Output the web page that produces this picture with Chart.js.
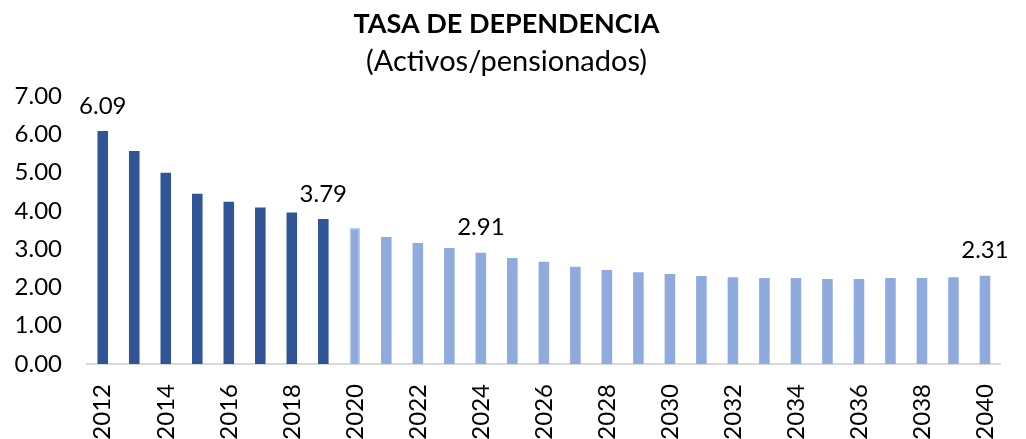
<!DOCTYPE html>
<html>
<head>
<meta charset="utf-8">
<script src="https://cdn.jsdelivr.net/npm/chart.js@4.4.0/dist/chart.umd.min.js"></script>
<style>
  html, body { margin: 0; padding: 0; background: #fff; }
  #wrap { width: 1026px; height: 439px; }
</style>
</head>
<body>
<div id="wrap"><canvas id="chart"></canvas></div>
<script>
// tasa de dependencia, 2012-2040
const years = [2012, 2013, 2014, 2015, 2016, 2017, 2018, 2019, 2020, 2021, 2022, 2023, 2024, 2025,
  2026, 2027, 2028, 2029, 2030, 2031, 2032, 2033, 2034, 2035, 2036, 2037, 2038, 2039, 2040];
const ratio = [6.09, 5.57, 5.00, 4.45, 4.24, 4.09, 3.96, 3.79, 3.56, 3.32, 3.16, 3.03, 2.91, 2.77,
  2.67, 2.54, 2.46, 2.40, 2.35, 2.30, 2.27, 2.25, 2.25, 2.22, 2.22, 2.25, 2.25, 2.27, 2.31];
const labelledYears = [2012, 2019, 2024, 2040];
const yTicks = [0, 1, 2, 3, 4, 5, 6, 7];

const FONT = 'Lato, "Liberation Sans", sans-serif';
const darkBlue = '#2F5597';
const lightBlue = '#8FAADC';

// bars up to 2019 are observed, the rest projected
const fills = years.map(y => y < 2020 ? darkBlue : lightBlue);
const borders = years.map(y => y === 2020 ? 'rgba(180, 199, 231, 0.9)' : 'rgba(0,0,0,0)');
const borderWidths = years.map(y => y === 2020 ? 1.5 : 0);

// simple value labels above selected bars
const valueLabels = {
  id: 'valueLabels',
  afterDatasetsDraw(chart) {
    const ctx = chart.ctx;
    const meta = chart.getDatasetMeta(0);
    ctx.save();
    ctx.font = '24px ' + FONT;
    ctx.fillStyle = '#000';
    ctx.textAlign = 'center';
    ctx.textBaseline = 'middle';
    meta.data.forEach((bar, i) => {
      if (!labelledYears.includes(years[i])) return;
      ctx.fillText(ratio[i].toFixed(2), bar.x, bar.y - 25);
    });
    ctx.restore();
  }
};

new Chart(document.getElementById('chart'), {
  type: 'bar',
  data: {
    labels: years.map(String),
    datasets: [{
      data: ratio,
      backgroundColor: fills,
      borderColor: borders,
      borderWidth: borderWidths,
      categoryPercentage: 1,
      barPercentage: 0.335
    }]
  },
  options: {
    responsive: true,
    maintainAspectRatio: false,
    animation: false,
    layout: { padding: { left: 0, right: 13, top: 0, bottom: 0 } },
    plugins: {
      legend: { display: false },
      tooltip: { enabled: false },
      title: {
        display: true,
        text: 'TASA DE DEPENDENCIA',
        color: '#000',
        font: { family: FONT, size: 27, weight: 'bold', lineHeight: 1.2 },
        padding: { top: 8, bottom: 4 }
      },
      subtitle: {
        display: true,
        text: '(Activos/pensionados)',
        color: '#000',
        font: { family: FONT, size: 29, lineHeight: 1.2 },
        padding: { top: 0, bottom: 17 }
      }
    },
    scales: {
      x: {
        grid: { display: false },
        border: { display: true, color: '#D9D9D9', width: 2 },
        afterFit(scale) { scale.height = 75; },
        ticks: {
          autoSkip: false,
          maxRotation: 90,
          minRotation: 90,
          padding: 12,
          color: '#000',
          font: { family: FONT, size: 24 },
          callback(value, index) {
            return years[index] % 2 === 0 ? String(years[index]) : '';
          }
        }
      },
      y: {
        min: 0,
        max: 7,
        grid: { display: false },
        border: { display: false },
        afterFit(scale) { scale.width = 87; },
        afterBuildTicks(scale) { scale.ticks = yTicks.map(v => ({ value: v })); },
        ticks: {
          padding: 17,
          color: '#000',
          font: { family: FONT, size: 24 },
          callback: v => Number(v).toFixed(2)
        }
      }
    }
  },
  plugins: [valueLabels]
});
</script>
</body>
</html>
